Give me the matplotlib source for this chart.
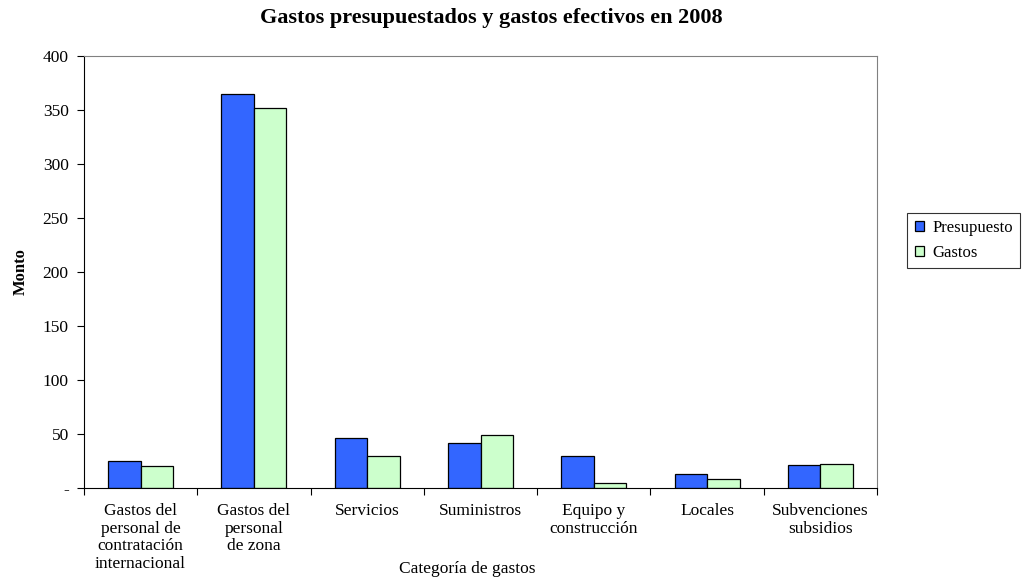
import matplotlib.pyplot as plt
import numpy as np

categorias = ['Gastos del\npersonal de\ncontratación\ninternacional',
              'Gastos del\npersonal\nde zona',
              'Servicios',
              'Suministros',
              'Equipo y\nconstrucción',
              'Locales',
              'Subvenciones\nsubsidios']
presupuesto = [25.4, 364.5, 46.7, 42, 30, 13, 21.3]
gastos = [20.7, 352, 30, 49.4, 5, 8, 22]

plt.rcParams['font.family'] = ['Liberation Serif', 'DejaVu Serif']

fig = plt.figure(figsize=(10.23, 5.78), dpi=100)
ax = fig.add_axes([0.0821, 0.1557, 0.7752, 0.7473])

x = np.arange(len(categorias))
w = 0.287
ax.bar(x - w/2, presupuesto, w, color='#3366FF', edgecolor='black', linewidth=0.9, label='Presupuesto')
ax.bar(x + w/2, gastos, w, color='#CCFFCC', edgecolor='black', linewidth=0.9, label='Gastos')

ax.set_xlim(-0.5, len(categorias) - 0.5)
ax.set_ylim(0, 400)
ax.set_yticks(np.arange(0, 401, 50))
ax.set_yticklabels(['-'] + [str(v) for v in range(50, 401, 50)], fontsize=12.5)

# category boundaries get the tick marks, labels sit in the middle
ax.set_xticks(np.arange(-0.5, len(categorias), 1))
ax.set_xticklabels([])
ax.set_xticks(x, minor=True)
ax.set_xticklabels(categorias, minor=True, fontsize=12.5, linespacing=1.12)
ax.tick_params(axis='x', which='minor', length=0, pad=11)
ax.tick_params(axis='x', which='major', length=5, direction='out')
ax.tick_params(axis='y', length=5, direction='out', pad=6)

for s in ['top', 'right']:
    ax.spines[s].set_color('#808080')
for s in ['left', 'bottom']:
    ax.spines[s].set_color('black')

fig.text(0.48, 0.968, 'Gastos presupuestados y gastos efectivos en 2008', fontsize=16,
         fontweight='bold', ha='center', va='center')
ax.set_ylabel('Monto', fontsize=12, fontweight='bold', labelpad=10)
fig.text(0.457, 0.008, 'Categoría de gastos', fontsize=12.5, ha='center')

leg = ax.legend(loc='center left', bbox_to_anchor=(1.038, 0.573), fontsize=12, frameon=True,
                fancybox=False, edgecolor='black', handlelength=0.55, handleheight=0.55,
                handletextpad=0.5, borderpad=0.45, labelspacing=0.5, borderaxespad=0)
leg.get_frame().set_linewidth(0.8)

fig.savefig('out.png', dpi=100)
